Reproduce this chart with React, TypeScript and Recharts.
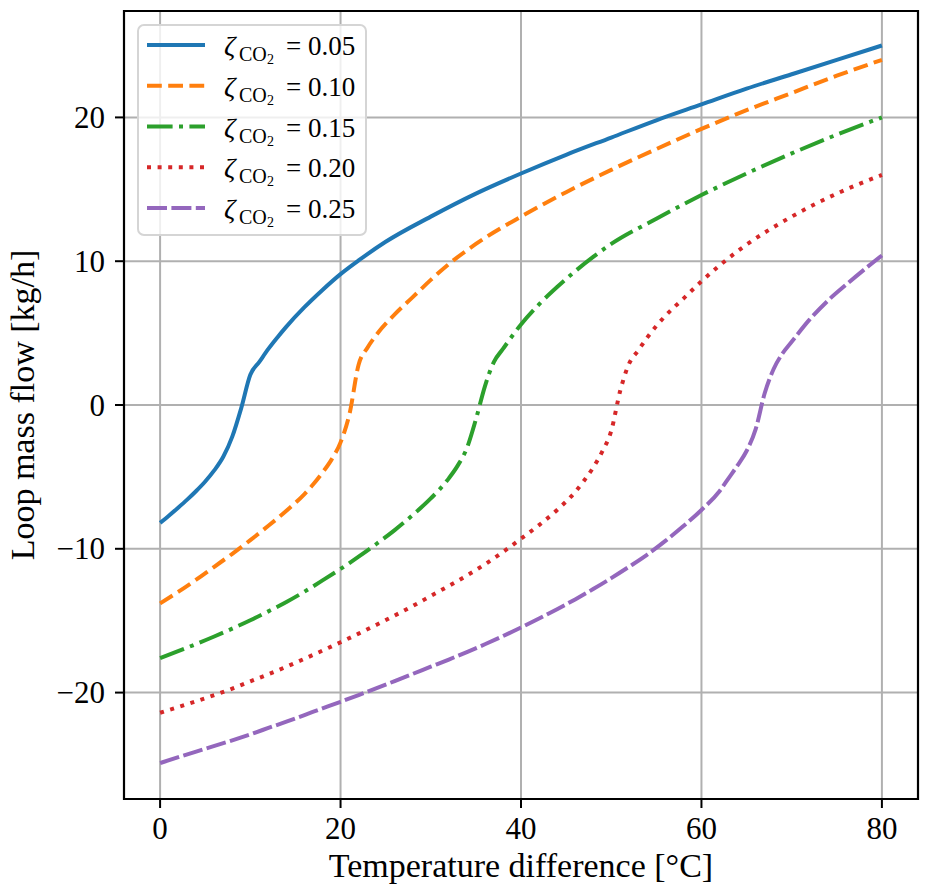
import React from 'react';
import { LineChart, Line, XAxis, YAxis, CartesianGrid, Legend, ReferenceArea } from 'recharts';

// CO2 fraction of each loop (legend values)
const zetaLabels = ['0.05', '0.10', '0.15', '0.20', '0.25'];

const xTicks = [0, 20, 40, 60, 80];
const yTicks = [-20, -10, 0, 10, 20];

// ζ = 0.05
const temp005 = [0, 1, 2, 3, 4, 5, 6, 7, 8, 9, 10, 11, 12, 13, 14, 16, 18, 20, 22, 25, 30, 35, 40, 45, 50, 55, 60, 65, 70, 75, 80];
const flow005 = [-8.2, -7.68, -7.14, -6.58, -5.98, -5.32, -4.55, -3.6, -2.2, -0.2, 2.1, 3.0, 3.9, 4.7, 5.45, 6.8, 8.0, 9.1, 10.05, 11.35, 13.1, 14.7, 16.1, 17.4, 18.6, 19.8, 20.9, 22.0, 23.0, 24.0, 25.0];

// ζ = 0.10
const temp010 = [0, 2, 4, 6, 8, 10, 12, 14, 16, 17, 18, 19, 20, 21, 22, 23, 24, 26, 28, 30, 32, 35, 40, 45, 50, 55, 60, 65, 70, 75, 80];
const flow010 = [-13.8, -13.0, -12.15, -11.25, -10.35, -9.4, -8.4, -7.35, -6.2, -5.5, -4.7, -3.8, -2.6, -0.6, 2.8, 4.0, 4.9, 6.3, 7.5, 8.7, 9.8, 11.2, 13.1, 14.8, 16.35, 17.8, 19.2, 20.5, 21.7, 22.9, 24.0];

// ζ = 0.15
const temp015 = [0, 2, 4, 6, 8, 10, 12, 14, 16, 18, 20, 22, 24, 26, 28, 30, 32, 33, 34, 35, 36, 37, 38, 40, 42, 44, 46, 48, 50, 55, 60, 65, 70, 75, 80];
const flow015 = [-17.6, -17.12, -16.62, -16.1, -15.55, -14.97, -14.35, -13.7, -12.98, -12.2, -11.4, -10.55, -9.65, -8.7, -7.65, -6.5, -5.1, -4.2, -3.0, -1.0, 1.3, 3.0, 3.9, 5.6, 7.0, 8.2, 9.3, 10.3, 11.2, 12.95, 14.6, 16.1, 17.5, 18.8, 20.0];

// ζ = 0.20
const temp020 = [0, 4, 8, 10, 12, 14, 16, 18, 20, 22, 24, 26, 28, 30, 32, 34, 36, 38, 40, 42, 44, 46, 47, 48, 49, 50, 51, 52, 53, 54, 56, 58, 60, 62, 65, 70, 75, 80];
const flow020 = [-21.4, -20.6, -19.72, -19.22, -18.72, -18.2, -17.65, -17.08, -16.5, -15.9, -15.28, -14.64, -13.98, -13.28, -12.58, -11.86, -11.08, -10.22, -9.3, -8.35, -7.3, -6.05, -5.25, -4.35, -3.25, -1.8, 1.0, 2.9, 3.8, 4.7, 6.2, 7.4, 8.6, 9.7, 11.15, 13.1, 14.7, 16.0];

// ζ = 0.25
const temp025 = [0, 4, 8, 10, 12, 14, 16, 18, 20, 22, 24, 26, 28, 30, 32, 34, 36, 38, 40, 42, 44, 46, 48, 50, 52, 54, 56, 58, 60, 62, 63, 64, 65, 66, 67, 68, 69, 70, 72, 74, 76, 78, 80];
const flow025 = [-24.9, -24.1, -23.32, -22.9, -22.46, -22.02, -21.56, -21.1, -20.64, -20.17, -19.69, -19.2, -18.7, -18.2, -17.7, -17.18, -16.64, -16.07, -15.47, -14.85, -14.2, -13.52, -12.8, -12.04, -11.24, -10.4, -9.45, -8.42, -7.3, -6.0, -5.1, -4.2, -3.2, -1.7, 0.8, 2.5, 3.6, 4.4, 5.95, 7.25, 8.35, 9.4, 10.4];

const zip = (t: number[], f: number[]) => t.map((v, i) => ({ t: v, flow: f[i] }));

const series = [
  { data: zip(temp005, flow005), color: '#1f77b4', dash: undefined as string | undefined },
  { data: zip(temp010, flow010), color: '#ff7f0e', dash: '14.8 6.4' },
  { data: zip(temp015, flow015), color: '#2ca02c', dash: '25.6 6.4 4 6.4' },
  { data: zip(temp020, flow020), color: '#d62728', dash: '4 6.6' },
  { data: zip(temp025, flow025), color: '#9467bd', dash: '20 4.4' },
];

const SERIF = '"Liberation Serif", "Times New Roman", serif';

const fmt = (v: number) => (v < 0 ? `\u2212${Math.abs(v)}` : `${v}`);

const XTick = (props: any) => {
  const { x, y, payload } = props;
  return (
    <text x={x} y={y + 29} textAnchor="middle" fontFamily={SERIF} fontSize={31} fill="#000">
      {fmt(payload.value)}
    </text>
  );
};

const YTick = (props: any) => {
  const { x, y, payload } = props;
  return (
    <text x={x - 8} y={y + 10.5} textAnchor="end" fontFamily={SERIF} fontSize={31} fill="#000">
      {fmt(payload.value)}
    </text>
  );
};

const LegendBox = () => (
  <svg width={230} height={212} style={{ display: 'block' }}>
    <rect x={1} y={1} width={228} height={210} rx={6} ry={6} fill="rgba(255,255,255,0.8)" stroke="#d5d5d5" strokeWidth={2} />
    {series.map((s, i) => {
      const cy = 21 + i * 40.75;
      return (
        <g key={i}>
          <line x1={10} x2={68} y1={cy} y2={cy} stroke={s.color} strokeWidth={4} strokeDasharray={s.dash} />
          <text fontFamily={SERIF} fill="#000">
            <tspan x={87} y={cy + 10} fontSize={28} fontStyle="italic">ζ</tspan>
            <tspan x={102} y={cy + 16} fontSize={20}>CO</tspan>
            <tspan x={130} y={cy + 19} fontSize={14}>2</tspan>
            <tspan x={149} y={cy + 10} fontSize={27}>{`= ${zetaLabels[i]}`}</tspan>
          </text>
        </g>
      );
    })}
  </svg>
);

export default function App() {
  return (
    <div style={{ position: 'absolute', left: 0, top: 0 }}>
      <LineChart width={928} height={896} margin={{ top: 11, right: 10, bottom: 0, left: 0 }}>
        <CartesianGrid stroke="#b0b0b0" strokeWidth={2} />
        <XAxis
          type="number"
          dataKey="t"
          domain={[-4, 84]}
          ticks={xTicks}
          allowDataOverflow
          height={97}
          axisLine={false}
          tickLine={{ stroke: '#000', strokeWidth: 2 }}
          tickSize={9}
          tickMargin={2}
          tick={<XTick />}
          label={{
            content: (p: any) => {
              const vb = p.viewBox;
              return (
                <text x={vb.x + vb.width / 2} y={877} textAnchor="middle" fontFamily={SERIF} fontSize={34} fill="#000">
                  Temperature difference [°C]
                </text>
              );
            },
          }}
        />
        <YAxis
          type="number"
          domain={[-27.4, 27.4]}
          ticks={yTicks}
          allowDataOverflow
          width={124}
          axisLine={false}
          tickLine={{ stroke: '#000', strokeWidth: 2 }}
          tickSize={9}
          tickMargin={2}
          tick={<YTick />}
          label={{
            content: (p: any) => {
              const vb = p.viewBox;
              const cy = vb.y + vb.height / 2;
              return (
                <text x={34} y={cy} transform={`rotate(-90 34 ${cy})`} textAnchor="middle" fontFamily={SERIF} fontSize={34} fill="#000">
                  Loop mass flow [kg/h]
                </text>
              );
            },
          }}
        />
        <ReferenceArea x1={-4} x2={84} y1={-27.4} y2={27.4} fill="none" stroke="#000" strokeWidth={2.2} ifOverflow="visible" />
        {series.map((s, i) => (
          <Line
            key={i}
            data={s.data}
            dataKey="flow"
            type="monotone"
            stroke={s.color}
            strokeWidth={4}
            strokeDasharray={s.dash}
            strokeLinejoin="round"
            dot={false}
            activeDot={false}
            isAnimationActive={false}
          />
        ))}
        <Legend
          layout="vertical"
          align="center"
          verticalAlign="middle"
          wrapperStyle={{ left: 137, top: 24, width: 230, height: 212 }}
          content={() => <LegendBox />}
        />
      </LineChart>
    </div>
  );
}
